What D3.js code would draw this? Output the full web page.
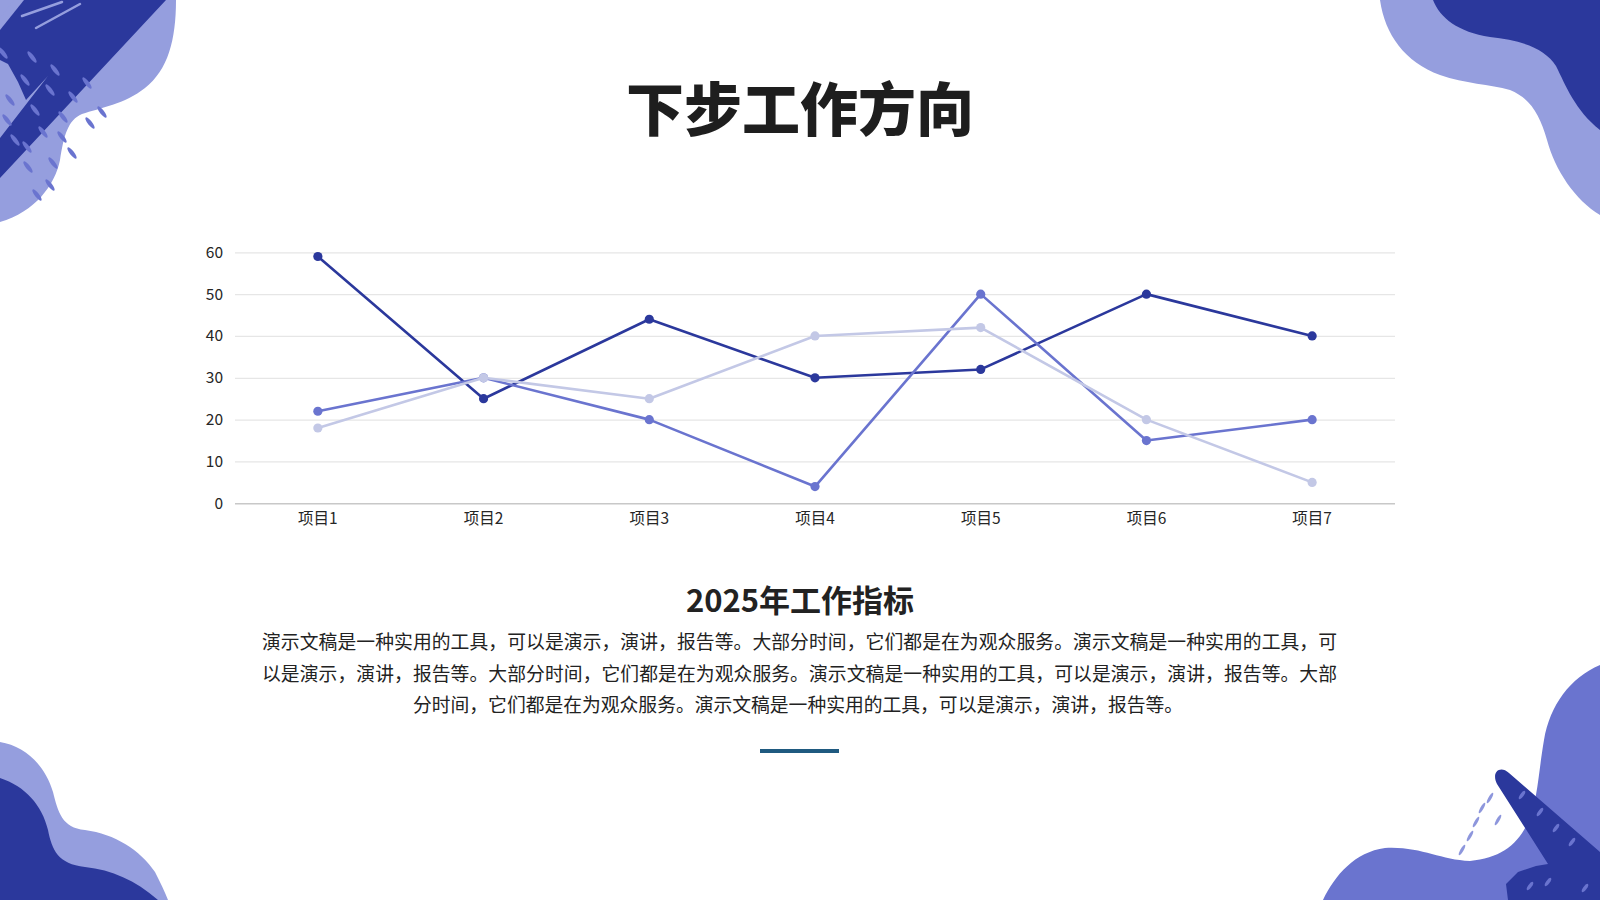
<!DOCTYPE html>
<html>
<head>
<meta charset="utf-8">
<script src="https://cdn.jsdelivr.net/npm/d3@7"></script>
<style>
  body { margin: 0; background: #fff; }
  svg { display: block; }
</style>
</head>
<body>
<div id="plot"></div>
<script>
// chart data
var categories = ["项目1", "项目2", "项目3", "项目4", "项目5", "项目6", "项目7"];
var series1 = [59, 25, 44, 30, 32, 50, 40];
var series2 = [22, 30, 20, 4, 50, 15, 20];
var series3 = [18, 30, 25, 40, 42, 20, 5];
var yTicks = [0, 10, 20, 30, 40, 50, 60];

var titleText = "下步工作方向";
var subTitle = "2025年工作指标";
var paraLines = [
  "演示文稿是一种实用的工具，可以是演示，演讲，报告等。大部分时间，它们都是在为观众服务。演示文稿是一种实用的工具，可",
  "以是演示，演讲，报告等。大部分时间，它们都是在为观众服务。演示文稿是一种实用的工具，可以是演示，演讲，报告等。大部",
  "分时间，它们都是在为观众服务。演示文稿是一种实用的工具，可以是演示，演讲，报告等。"
];

var colors = ["#2b389c", "#6a74cf", "#c3c8e6"];
var dark = "#2b389c", light = "#959ede", mid = "#6a74cf";

var W = 1600, H = 900;
var svg = d3.select("div#plot")
  .append("svg")
    .attr("width", W)
    .attr("height", H);

// ---- corner decorations ----
var deco = svg.append("g").attr("class", "deco");

// top left
deco.append("path").attr("fill", light)
  .attr("d", "M0,0 L176,0 C176,40 168,70 145,88 C125,104 100,108 82,114 C68,120 64,135 60,160 C55,185 35,212 0,222 Z");
deco.append("path").attr("fill", dark)
  .attr("d", "M18,0 L166,0 L0,178 L0,138 L48,76 L26,100 L18,82 L8,64 L0,60 L0,28 Z");
deco.append("path").attr("fill", light)
  .attr("d", "M0,18 L14,0 L24,0 L0,30 Z");
deco.append("path").attr("fill", "none").attr("stroke", light).attr("stroke-width", 2.5)
  .attr("stroke-linecap", "round")
  .attr("d", "M22,16 L62,2 M36,28 L80,4");

var dashesTL = [[3,53],[32,57],[55,70],[25,80],[50,90],[10,100],[73,97],[87,83],[35,110],
  [63,117],[7,120],[43,132],[62,137],[90,123],[102,112],[72,153],[27,147],[28,167],[53,163],[50,185],[37,195],[15,140]];
deco.selectAll(".dtl").data(dashesTL).enter().append("ellipse")
  .attr("class", "dtl")
  .attr("rx", 7).attr("ry", 2.2)
  .attr("fill", mid)
  .attr("transform", function(d) { return "translate(" + d[0] + "," + d[1] + ") rotate(52)"; });

// top right
deco.append("path").attr("fill", light)
  .attr("d", "M1380,0 C1385,35 1405,62 1440,75 C1465,84 1490,84 1510,90 C1530,98 1540,115 1547,140 C1555,170 1575,200 1600,215 L1600,0 Z");
deco.append("path").attr("fill", dark)
  .attr("d", "M1433,0 C1440,18 1458,32 1490,37 C1520,40 1545,48 1556,66 C1566,86 1575,110 1600,130 L1600,0 Z");

// bottom left
deco.append("path").attr("fill", light)
  .attr("d", "M0,742 C25,746 45,765 53,792 C58,812 62,828 85,830 C115,834 140,850 155,872 C160,882 165,892 168,900 L0,900 Z");
deco.append("path").attr("fill", dark)
  .attr("d", "M0,778 C25,786 42,805 48,830 C52,850 58,864 85,867 C112,870 135,880 158,900 L0,900 Z");

// bottom right
deco.append("path").attr("fill", mid)
  .attr("d", "M1600,665 C1570,678 1550,705 1544,740 C1538,775 1538,800 1528,822 C1518,845 1500,858 1470,861 C1440,860 1420,846 1385,848 C1355,852 1335,875 1323,900 L1600,900 Z");
deco.append("path").attr("fill", dark)
  .attr("d", "M1497,784 C1491,772 1500,765 1509,773 L1600,852 L1600,900 L1508,900 L1506,884 L1518,872 L1536,866 L1548,864 Z");
var dashesBR = [[1482,808],[1476,822],[1470,836],[1490,798],[1498,820],[1462,850]];
deco.selectAll(".dbr").data(dashesBR).enter().append("ellipse")
  .attr("class", "dbr")
  .attr("rx", 6).attr("ry", 1.6)
  .attr("fill", "#8d96dc")
  .attr("transform", function(d) { return "translate(" + d[0] + "," + d[1] + ") rotate(-60)"; });
var dashesBR2 = [[1522,795],[1540,812],[1556,828],[1572,842],[1530,886],[1548,882],[1585,888]];
deco.selectAll(".dbr2").data(dashesBR2).enter().append("ellipse")
  .attr("class", "dbr2")
  .attr("rx", 5).attr("ry", 1.8)
  .attr("fill", mid)
  .attr("transform", function(d) { return "translate(" + d[0] + "," + d[1] + ") rotate(-55)"; });

// ---- title ----
svg.append("text")
  .attr("x", 800).attr("y", 131)
  .attr("text-anchor", "middle")
  .style("font-family", "'Noto Sans CJK SC', sans-serif")
  .style("font-weight", 900)
  .style("font-size", "58px")
  .style("fill", "#1e1e1e")
  .text(titleText);

// ---- chart ----
var plotLeft = 235, plotRight = 1395, plotTop = 252.3, plotBottom = 503.3;

var x = d3.scaleBand().domain(categories).range([plotLeft, plotRight]).padding(0);
var y = d3.scaleLinear().domain([0, 60]).range([plotBottom, plotTop]);

// gridlines + y labels
var yAxis = d3.axisLeft(y).tickValues(yTicks).tickSize(-(plotRight - plotLeft)).tickPadding(12);
var gy = svg.append("g")
  .attr("class", "Yaxis")
  .attr("transform", "translate(" + plotLeft + ",0)")
  .call(yAxis);
gy.select(".domain").remove();
gy.selectAll(".tick line")
  .attr("stroke", function(d) { return d === 0 ? "#c8c8c8" : "#e6e6e6"; })
  .attr("stroke-width", function(d) { return d === 0 ? 1.6 : 1.2; });
gy.selectAll(".tick text")
  .style("font-family", "'Noto Sans CJK SC', 'Noto Sans', sans-serif")
  .style("font-size", "15.5px")
  .style("fill", "#262626");

// x labels
var xAxis = d3.axisBottom(x).tickSize(0).tickPadding(10);
var gx = svg.append("g")
  .attr("class", "Xaxis")
  .attr("transform", "translate(0," + plotBottom + ")")
  .call(xAxis);
gx.select(".domain").remove();
gx.selectAll(".tick text")
  .style("font-family", "'Noto Sans CJK SC', sans-serif")
  .style("font-size", "15.5px")
  .style("fill", "#262626");

var line = d3.line()
  .x(function(d, i) { return x(categories[i]) + x.bandwidth() / 2; })
  .y(function(d) { return y(d); });

[series1, series2, series3].forEach(function(s, k) {
  svg.append("path")
    .datum(s)
    .attr("fill", "none")
    .attr("stroke", colors[k])
    .attr("stroke-width", 2.6)
    .attr("stroke-linejoin", "round")
    .attr("d", line);
  svg.selectAll(".point" + k)
    .data(s)
    .enter().append("circle")
    .attr("class", "point" + k)
    .attr("cx", function(d, i) { return x(categories[i]) + x.bandwidth() / 2; })
    .attr("cy", function(d) { return y(d); })
    .attr("r", 4.6)
    .attr("fill", colors[k]);
});

// ---- subtitle and paragraph ----
svg.append("text")
  .attr("x", 800).attr("y", 612)
  .attr("text-anchor", "middle")
  .style("font-family", "'Noto Sans CJK SC', sans-serif")
  .style("font-weight", 700)
  .style("font-size", "31px")
  .style("fill", "#222")
  .text(subTitle);

var para = svg.append("g")
  .style("font-family", "'Noto Sans CJK SC', sans-serif")
  .style("font-size", "18.8px")
  .style("fill", "#222");
paraLines.forEach(function(t, i) {
  var tx = para.append("text")
    .attr("y", 649 + i * 31.5)
    .text(t);
  if (i < 2) {
    tx.attr("x", 262).attr("textLength", 1075).attr("lengthAdjust", "spacing");
  } else {
    tx.attr("x", 413);
  }
});

// divider
svg.append("rect")
  .attr("x", 760).attr("y", 749)
  .attr("width", 79).attr("height", 4)
  .attr("fill", "#1f5a80");
</script>
</body>
</html>
